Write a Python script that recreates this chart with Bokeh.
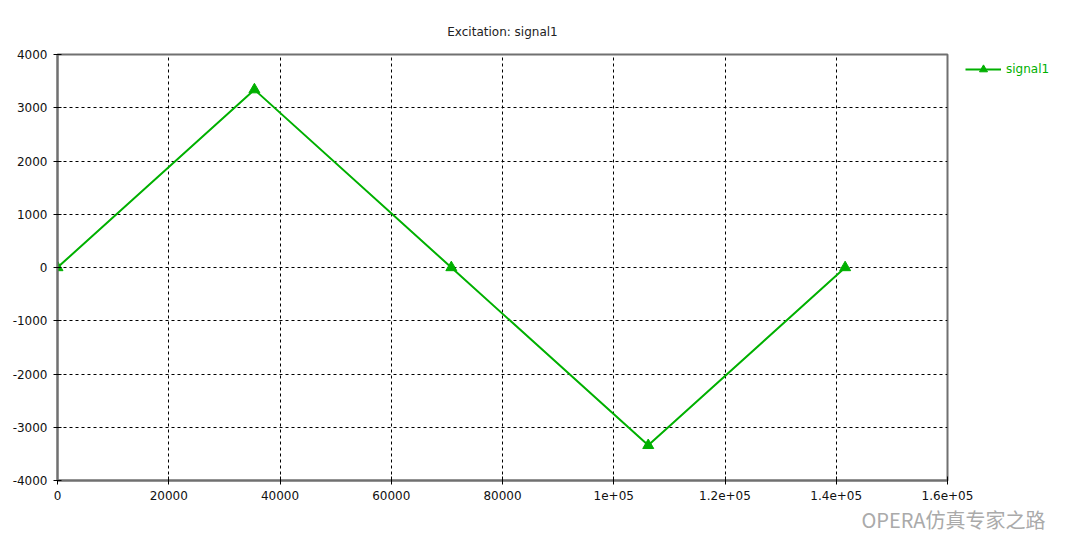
from bokeh.plotting import figure
from bokeh.models import ColumnDataSource, FixedTicker, Legend, LegendItem, Range1d, Title
from bokeh.embed import file_html
from bokeh.resources import INLINE

# data
time_vals = [0, 35400, 70800, 106200, 141600]
signal1 = [0, 3340, 0, -3340, 0]
x_ticks = [0, 20000, 40000, 60000, 80000, 100000, 120000, 140000, 160000]
x_tick_labels = ["0", "20000", "40000", "60000", "80000", "1e+05", "1.2e+05", "1.4e+05", "1.6e+05"]
y_ticks = [-4000, -3000, -2000, -1000, 0, 1000, 2000, 3000, 4000]
y_tick_labels = ["-4000", "-3000", "-2000", "-1000", "0", "1000", "2000", "3000", "4000"]

GREEN = "#00b000"
FONT = "DejaVu Sans"

p = figure(frame_width=890, frame_height=426, output_backend="svg", toolbar_location=None,
           x_range=Range1d(0, 160000), y_range=Range1d(-4000, 4000),
           min_border_left=57, min_border_right=110, min_border_top=54, min_border_bottom=20)
p.title.text = "Excitation: signal1"
p.title.align = "center"
p.title.text_font = FONT
p.title.text_font_style = "normal"
p.title.text_font_size = "12px"
p.title.text_color = "#222222"
p.title.standoff = 31

src = ColumnDataSource(dict(x=time_vals, y=signal1))
r_line = p.line("x", "y", source=src, line_color=GREEN, line_width=2)
r_mark = p.scatter("x", "y", source=src, marker="triangle", size=11,
                   fill_color=GREEN, line_color=GREEN)

for ax, ticks, labels in ((p.xaxis[0], x_ticks, x_tick_labels), (p.yaxis[0], y_ticks, y_tick_labels)):
    ax.ticker = FixedTicker(ticks=ticks)
    ax.major_label_overrides = {t: l for t, l in zip(ticks, labels)}
    ax.minor_tick_line_color = None
    ax.major_tick_in = 4
    ax.major_tick_out = 4
    ax.major_tick_line_color = "#000000"
    ax.axis_line_color = "#707070"
    ax.axis_line_width = 2
    ax.major_label_text_font = FONT
    ax.major_label_text_font_size = "12px"
    ax.major_label_text_color = "#111111"
    ax.major_label_standoff = 6

p.xgrid[0].ticker = FixedTicker(ticks=x_ticks)
p.ygrid[0].ticker = FixedTicker(ticks=y_ticks)
for g in (p.xgrid[0], p.ygrid[0]):
    g.grid_line_color = "#000000"
    g.grid_line_dash = "3 3"
    g.grid_line_width = 1

p.outline_line_color = "#707070"
p.outline_line_width = 2
p.background_fill_color = "white"
p.border_fill_color = "white"

legend = Legend(items=[LegendItem(label="signal1", renderers=[r_line, r_mark])],
                location=(18, 401), label_text_color=GREEN, label_text_font=FONT,
                label_text_font_size="12px", border_line_color=None,
                background_fill_alpha=0, glyph_width=36, padding=4,
                margin=0, spacing=0)
p.add_layout(legend, "right")

# watermark
p.add_layout(Title(text="OPERA仿真专家之路", align="right", text_font="Noto Sans CJK SC",
                   text_font_size="20px", text_font_style="normal",
                   text_color="#aaaaaa", offset=-98, standoff=0), "below")

open("out.html", "w").write(file_html(p, INLINE))
